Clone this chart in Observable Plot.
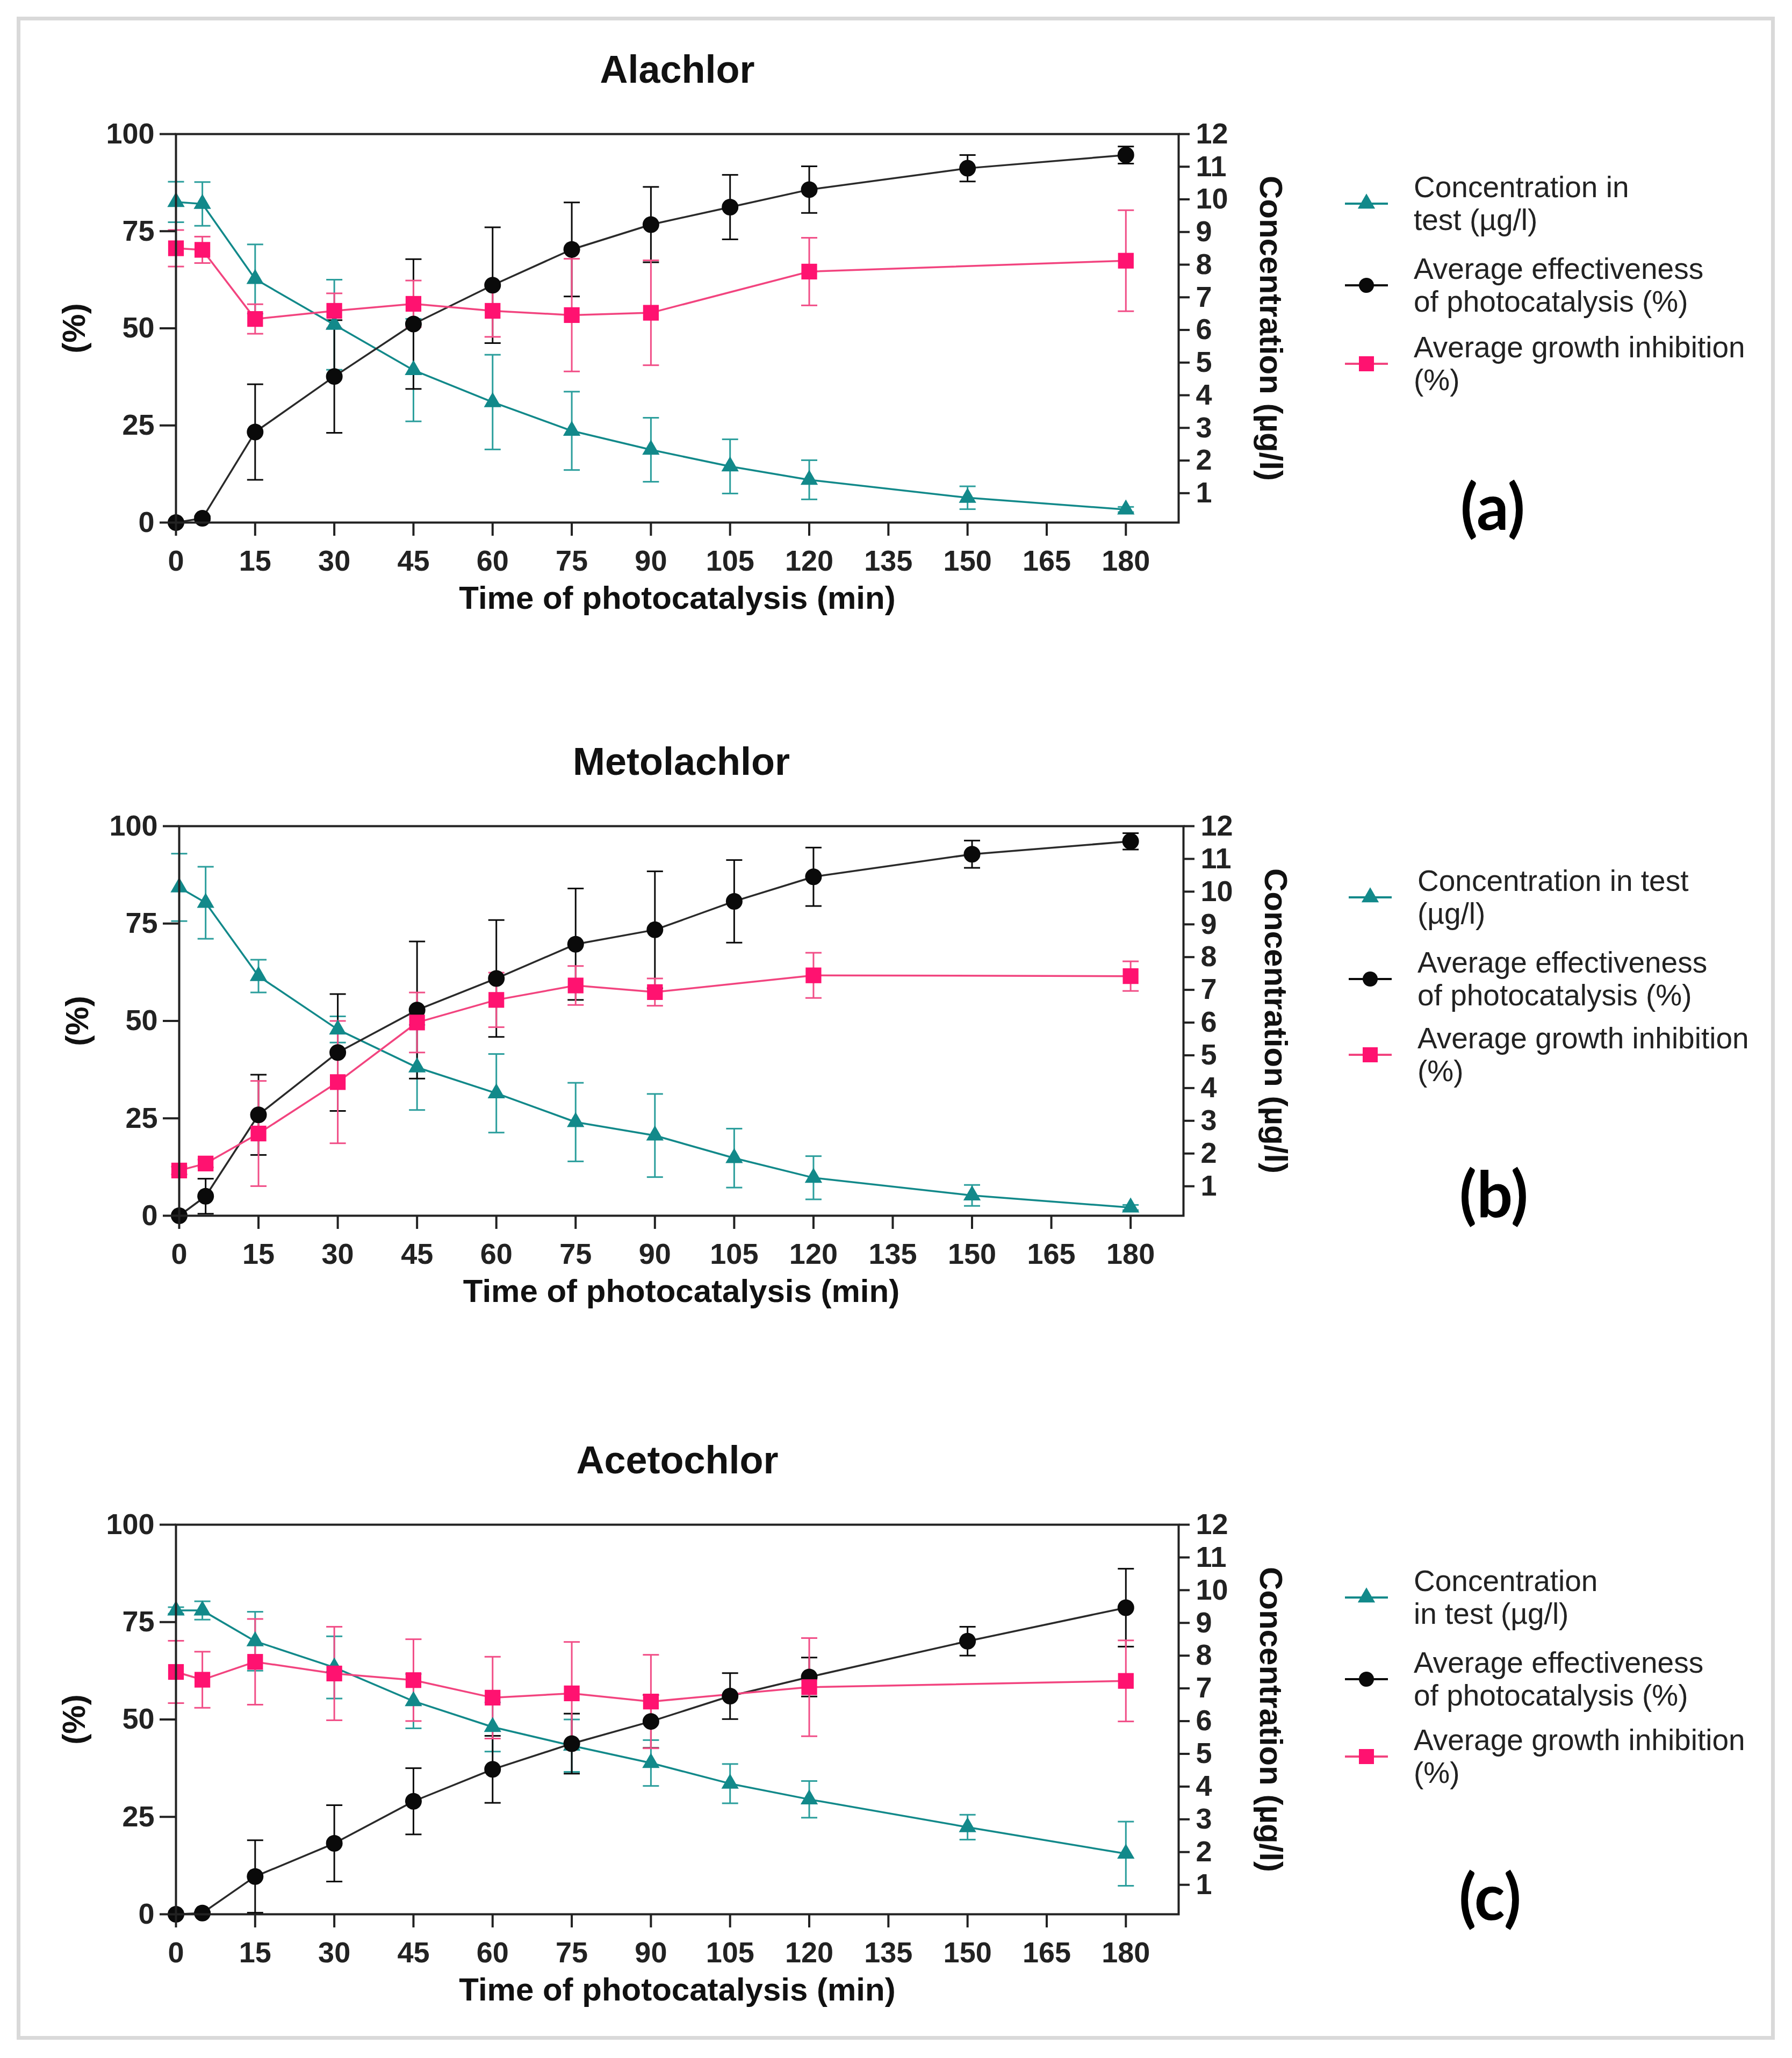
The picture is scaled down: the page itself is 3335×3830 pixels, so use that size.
<!DOCTYPE html>
<html><head><meta charset="utf-8">
<script src="https://cdn.jsdelivr.net/npm/d3@7"></script>
<script src="https://cdn.jsdelivr.net/npm/@observablehq/plot@0.6"></script>
<style>
html,body{margin:0;padding:0;background:#fff;}
#page{position:relative;width:3335px;height:3830px;background:#fff;overflow:hidden;font-family:"Liberation Sans",Arial,sans-serif;}
#border{position:absolute;left:31px;top:31px;width:3272px;height:3765px;box-sizing:border-box;border:7px solid #d9d9d9;z-index:5;}
.panel{position:absolute;left:0;}
.legend-item{position:absolute;display:flex;align-items:center;z-index:4;}
.legend-item svg{width:80px;height:40px;margin-right:48px;flex:none;}
.legend-text{font-size:55px;line-height:61px;color:#222;white-space:nowrap;}
.plabel{position:absolute;font-family:Lato,"Open Sans",sans-serif;font-weight:bold;font-size:118px;line-height:1;transform:translate(-50%,-50%);color:#000;z-index:4;}
</style></head>
<body><div id="page"><div id="border"></div></div>
<script>
// ---------------- data ----------------
const time = [0, 5, 15, 30, 45, 60, 75, 90, 105, 120, 150, 180];
const growthTime = [0, 5, 15, 30, 45, 60, 75, 90, 120, 180];
const xTicks = [0, 15, 30, 45, 60, 75, 90, 105, 120, 135, 150, 165, 180];
const leftTicks = [0, 25, 50, 75, 100];
const rightTicks = [1, 2, 3, 4, 5, 6, 7, 8, 9, 10, 11, 12];

// Alachlor
const alachlorConc = [9.92, 9.86, 7.56, 6.16, 4.77, 3.79, 2.91, 2.33, 1.82, 1.41, 0.86, 0.50];
const alachlorConcSd = [0.62, 0.67, 1.06, 1.38, 1.57, 1.45, 1.2, 0.98, 0.83, 0.6, 0.35, 0.08];
const alachlorEff = [0, 1.1, 23.3, 37.6, 51.1, 61.1, 70.3, 76.7, 81.2, 85.7, 91.2, 94.6];
const alachlorEffSd = [0, 0.5, 12.3, 14.5, 16.7, 14.9, 12.1, 9.7, 8.3, 6, 3.4, 2.2];
const alachlorGrowth = [70.6, 70.2, 52.4, 54.5, 56.3, 54.5, 53.4, 54.0, 64.6, 67.4];
const alachlorGrowthSd = [4.7, 3.4, 3.8, 4.5, 6, 6.7, 14.5, 13.5, 8.7, 13];

// Metolachlor
const metolachlorConc = [10.13, 9.66, 7.42, 5.79, 4.63, 3.84, 2.96, 2.55, 1.86, 1.26, 0.72, 0.35];
const metolachlorConcSd = [1.03, 1.1, 0.5, 0.4, 1.3, 1.2, 1.2, 1.27, 0.9, 0.66, 0.32, 0.08];
const metolachlorEff = [0, 5.0, 25.9, 41.9, 52.8, 60.9, 69.7, 73.4, 80.7, 87.0, 92.8, 96.1];
const metolachlorEffSd = [0, 4.5, 10.3, 15, 17.6, 15, 14.3, 15, 10.6, 7.5, 3.5, 2.1];
const metolachlorGrowth = [11.6, 13.4, 21.1, 34.3, 49.6, 55.4, 59.1, 57.4, 61.7, 61.5];
const metolachlorGrowthSd = [1, 1, 13.5, 15.7, 7.7, 7, 5, 3.5, 5.8, 3.8];

// Acetochlor
const acetochlorConc = [9.38, 9.38, 8.44, 7.64, 6.61, 5.82, 5.25, 4.72, 4.09, 3.61, 2.76, 1.95];
const acetochlorConcSd = [0.1, 0.28, 0.9, 0.95, 0.83, 0.75, 0.8, 0.7, 0.6, 0.56, 0.38, 0.98];
const acetochlorEff = [0, 0.3, 9.7, 18.2, 29.0, 37.2, 43.8, 49.5, 56.0, 60.9, 70.1, 78.7];
const acetochlorEffSd = [0, 0.2, 9.3, 9.8, 8.5, 8.6, 7.7, 6.8, 5.9, 5, 3.7, 10];
const acetochlorGrowth = [62.2, 60.2, 64.8, 61.8, 60.1, 55.6, 56.7, 54.6, 58.3, 59.9];
const acetochlorGrowthSd = [8, 7.2, 11, 12, 10.5, 10.5, 13.2, 12, 12.6, 10.4];

const legendLabels = {
  a: [["Concentration in", "test (µg/l)"], ["Average effectiveness", "of photocatalysis (%)"], ["Average growth inhibition", "(%)"]],
  b: [["Concentration in test", "(µg/l)"], ["Average effectiveness", "of photocatalysis (%)"], ["Average growth inhibition", "(%)"]],
  c: [["Concentration", "in test (µg/l)"], ["Average effectiveness", "of photocatalysis (%)"], ["Average growth inhibition", "(%)"]]
};

// ---------------- styling ----------------
const teal = "#12898a", tealErr = "#2b9e9c";
const pink = "#ff1270", pinkLine = "#f2447f", pinkErr = "#f14e87";
const black = "#0a0a0a", blackLine = "#2a2a2a";
const axisColor = "#222";
const rightMin = 0.1, rightMax = 12;
const toPct = c => (c - rightMin) / (rightMax - rightMin) * 100;
const fromPct = p => p / 100 * (rightMax - rightMin) + rightMin;

const cap = {draw(ctx, size) { const w = Math.sqrt(size / Math.PI); ctx.moveTo(-w, 0); ctx.lineTo(w, 0); }};

const panels = [
  {key: "a", title: "Alachlor", conc: alachlorConc, concSd: alachlorConcSd, eff: alachlorEff, effSd: alachlorEffSd, growth: alachlorGrowth, growthSd: alachlorGrowthSd,
   left: 327, right: 2193, top: 249, ph: 723, legendX: 2503, legendY: [379, 531, 677], label: [2778, 941]},
  {key: "b", title: "Metolachlor", conc: metolachlorConc, concSd: metolachlorConcSd, eff: metolachlorEff, effSd: metolachlorEffSd, growth: metolachlorGrowth, growthSd: metolachlorGrowthSd,
   left: 333, right: 2202, top: 1537, ph: 725, legendX: 2510, legendY: [1670, 1822, 1963], label: [2780, 2220]},
  {key: "c", title: "Acetochlor", conc: acetochlorConc, concSd: acetochlorConcSd, eff: acetochlorEff, effSd: acetochlorEffSd, growth: acetochlorGrowth, growthSd: acetochlorGrowthSd,
   left: 327, right: 2193, top: 2837, ph: 725, legendX: 2503, legendY: [2973, 3125, 3269], label: [2773, 3528]}
];

const page = document.getElementById("page");
const mt = 200, mb = 220;

function errMarks(rows, color) {
  return [
    Plot.ruleX(rows, {x: "t", y1: "lo", y2: "hi", stroke: color, strokeWidth: 3}),
    Plot.dot(rows, {x: "t", y: "lo", symbol: cap, r: 15, stroke: color, strokeWidth: 3, fill: "none"}),
    Plot.dot(rows, {x: "t", y: "hi", symbol: cap, r: 15, stroke: color, strokeWidth: 3, fill: "none"})
  ];
}

for (const p of panels) {
  const concRows = time.map((t, i) => ({t, v: toPct(p.conc[i]), lo: toPct(p.conc[i] - p.concSd[i]), hi: toPct(p.conc[i] + p.concSd[i])}));
  const effRows = time.map((t, i) => ({t, v: p.eff[i], lo: p.eff[i] - p.effSd[i], hi: p.eff[i] + p.effSd[i]}));
  const growthRows = growthTime.map((t, i) => ({t, v: p.growth[i], lo: p.growth[i] - p.growthSd[i], hi: p.growth[i] + p.growthSd[i]}));

  const chart = Plot.plot({
    width: 3335,
    height: mt + p.ph + mb,
    marginLeft: p.left,
    marginRight: 3335 - p.right,
    marginTop: mt,
    marginBottom: mb,
    x: {domain: [0, 190]},
    y: {domain: [0, 100]},
    style: {fontFamily: '"Liberation Sans", Arial, sans-serif', fontSize: "54px", fontWeight: "bold", color: axisColor, background: "transparent", overflow: "visible"},
    marks: [
      ...errMarks(concRows, tealErr),
      ...errMarks(effRows, black),
      ...errMarks(growthRows, pinkErr),
      Plot.line(concRows, {x: "t", y: "v", stroke: teal, strokeWidth: 3.5}),
      Plot.line(effRows, {x: "t", y: "v", stroke: blackLine, strokeWidth: 3.5}),
      Plot.line(growthRows, {x: "t", y: "v", stroke: pinkLine, strokeWidth: 3.5}),
      Plot.dot(concRows, {x: "t", y: "v", symbol: "triangle", r: 12, fill: teal, stroke: "none"}),
      Plot.dot(effRows, {x: "t", y: "v", symbol: "circle", r: 15.5, fill: black, stroke: "none"}),
      Plot.dot(growthRows, {x: "t", y: "v", symbol: "square", r: 16.5, fill: pink, stroke: "none"}),
      Plot.frame({stroke: axisColor, strokeWidth: 4}),
      Plot.axisX(xTicks, {anchor: "bottom", tickSize: 25, tickPadding: 26, strokeWidth: 4, fontSize: 54, fontWeight: "bold", label: null}),
      Plot.axisY(leftTicks, {anchor: "left", tickSize: 30, tickPadding: 10, strokeWidth: 4, fontSize: 54, fontWeight: "bold", label: null}),
      Plot.axisY(rightTicks.map(toPct), {anchor: "right", tickSize: 20, tickPadding: 12, strokeWidth: 4, fontSize: 54, fontWeight: "bold", label: null, tickFormat: d => String(Math.round(fromPct(d)))}),
      Plot.text([p.title], {frameAnchor: "top", dy: -119, textAnchor: "middle", lineAnchor: "middle", fontSize: 72, fontWeight: "bold", fill: "#111"}),
      Plot.text(["Time of photocatalysis (min)"], {frameAnchor: "bottom", dy: 141, textAnchor: "middle", lineAnchor: "middle", fontSize: 60, fontWeight: "bold", fill: "#111"}),
      Plot.text(["(%)"], {frameAnchor: "left", dx: -189, rotate: -90, textAnchor: "middle", lineAnchor: "middle", fontSize: 60, fontWeight: "bold", fill: "#111"}),
      Plot.text(["Concentration (µg/l)"], {frameAnchor: "right", dx: 171, rotate: 90, textAnchor: "middle", lineAnchor: "middle", fontSize: 60, fontWeight: "bold", fill: "#111"})
    ]
  });
  chart.classList.add("panel");
  chart.style.top = (p.top - mt) + "px";
  chart.style.maxWidth = "none";
  page.appendChild(chart);

  // legend
  const swatches = [
    `<line x1="0" y1="20" x2="80" y2="20" stroke="${teal}" stroke-width="4"/><path d="${d3.symbol(d3.symbolTriangle, 12*12*Math.PI)()}" transform="translate(40,20)" fill="${teal}"/>`,
    `<line x1="0" y1="20" x2="80" y2="20" stroke="${black}" stroke-width="4"/><circle cx="40" cy="20" r="14" fill="${black}"/>`,
    `<line x1="0" y1="20" x2="80" y2="20" stroke="${pinkLine}" stroke-width="4"/><rect x="26" y="6" width="28" height="28" fill="${pink}"/>`
  ];
  legendLabels[p.key].forEach((lines, i) => {
    const item = document.createElement("div");
    item.className = "legend-item";
    item.style.left = p.legendX + "px";
    item.style.top = (p.legendY[i] - 61) + "px";
    item.innerHTML = `<svg viewBox="0 0 80 40">${swatches[i]}</svg><div class="legend-text">${lines.join("<br>")}</div>`;
    page.appendChild(item);
  });

  const lab = document.createElement("div");
  lab.className = "plabel";
  lab.style.left = p.label[0] + "px";
  lab.style.top = p.label[1] + "px";
  lab.textContent = `(${p.key})`;
  page.appendChild(lab);
}
</script></body></html>
